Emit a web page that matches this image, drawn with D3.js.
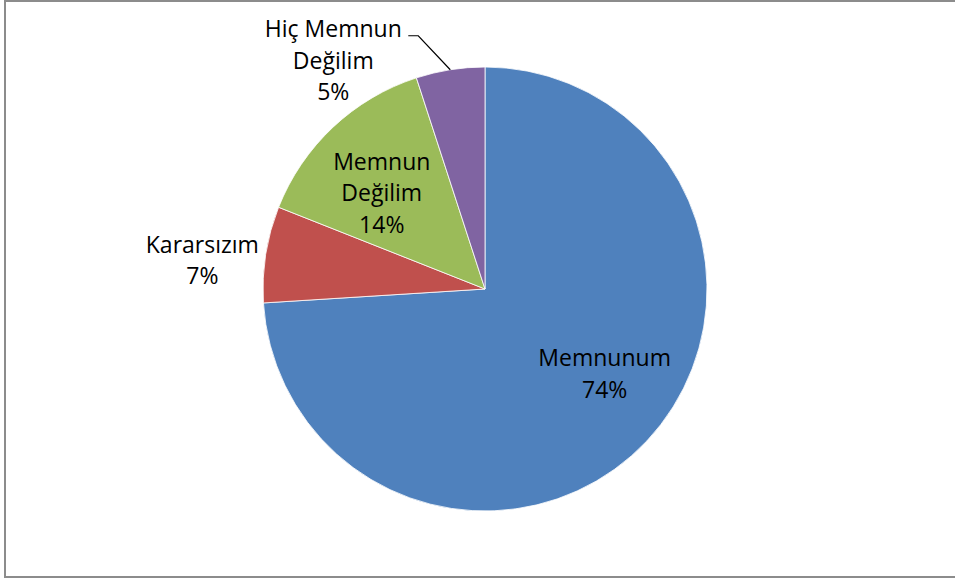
<!DOCTYPE html>
<html>
<head>
<meta charset="utf-8">
<script src="https://cdn.jsdelivr.net/npm/d3@7"></script>
<style>
  body { margin: 0; background: #fff; }
  svg text { font-family: "Open Sans", sans-serif; font-size: 23px; fill: #000; }
</style>
</head>
<body>
<svg id="chart" width="955" height="581"></svg>
<script>
// data
var categories = ["Memnunum", "Kararsızım", "Memnun Değilim", "Hiç Memnun Değilim"];
var values = [74, 7, 14, 5];
var labelLines = [["Memnunum"], ["Kararsızım"], ["Memnun", "Değilim"], ["Hiç Memnun", "Değilim"]];
var colors = ["#4F81BD", "#C0504D", "#9BBB59", "#8064A2"];

var svg = d3.select("#chart");
var cx = 485, cy = 289, radius = 222;

// chart frame
svg.append("rect")
  .attr("x", 5).attr("y", 1)
  .attr("width", 955).attr("height", 576)
  .attr("fill", "none")
  .attr("stroke", "#8c8c8c")
  .attr("stroke-width", 2);

var rows = categories.map(function(c, i) {
  return { name: c, value: values[i], lines: labelLines[i], color: colors[i] };
});

var pie = d3.pie().sort(null).value(function(d) { return d.value; });
var arcs = pie(rows);
var arc = d3.arc().innerRadius(0).outerRadius(radius);

var g = svg.append("g").attr("transform", "translate(" + cx + "," + cy + ")");

g.selectAll("path")
  .data(arcs)
  .enter()
  .append("path")
  .attr("d", arc)
  .attr("fill", function(d) { return d.data.color; })
  .attr("stroke", "#fff")
  .attr("stroke-width", 0.8);

// where each label goes: distance from centre as a share of the radius, plus a nudge
var layout = [
  { k: 0.69, dx: 8, dy: -20 },
  { k: 1.28, dx: -2, dy: 16 },
  { k: 0.64, dx: -6, dy: 8 },
  { k: 1.0, dx: 0, dy: 0, outside: true }
];
var lineH = 31.5;

var total = d3.sum(values);
arcs.forEach(function(a, i) {
  var mid = (a.startAngle + a.endAngle) / 2;
  var L = layout[i];
  var pct = Math.round(a.data.value / total * 100) + "%";
  var lines = a.data.lines.concat([pct]);
  var px, py;
  if (L.outside) {
    // leader line from the slice edge up to the label
    var ex = Math.sin(mid) * radius, ey = -Math.cos(mid) * radius;
    var bx = ex - 32, by = ey - 34;
    g.append("polyline")
      .attr("points", [[ex, ey], [bx, by], [bx - 10, by]].map(function(p) { return p.join(","); }).join(" "))
      .attr("fill", "none")
      .attr("stroke", "#000")
      .attr("stroke-width", 1.2);
    px = bx - 85;
    py = by + 25;
  } else {
    px = Math.sin(mid) * radius * L.k + L.dx;
    py = -Math.cos(mid) * radius * L.k + L.dy;
  }
  var t = g.append("text")
    .attr("text-anchor", "middle")
    .attr("transform", "translate(" + px + "," + py + ")");
  lines.forEach(function(s, j) {
    t.append("tspan")
      .attr("x", 0)
      .attr("y", (j - (lines.length - 1) / 2) * lineH + 8)
      .text(s);
  });
});
</script>
</body>
</html>
